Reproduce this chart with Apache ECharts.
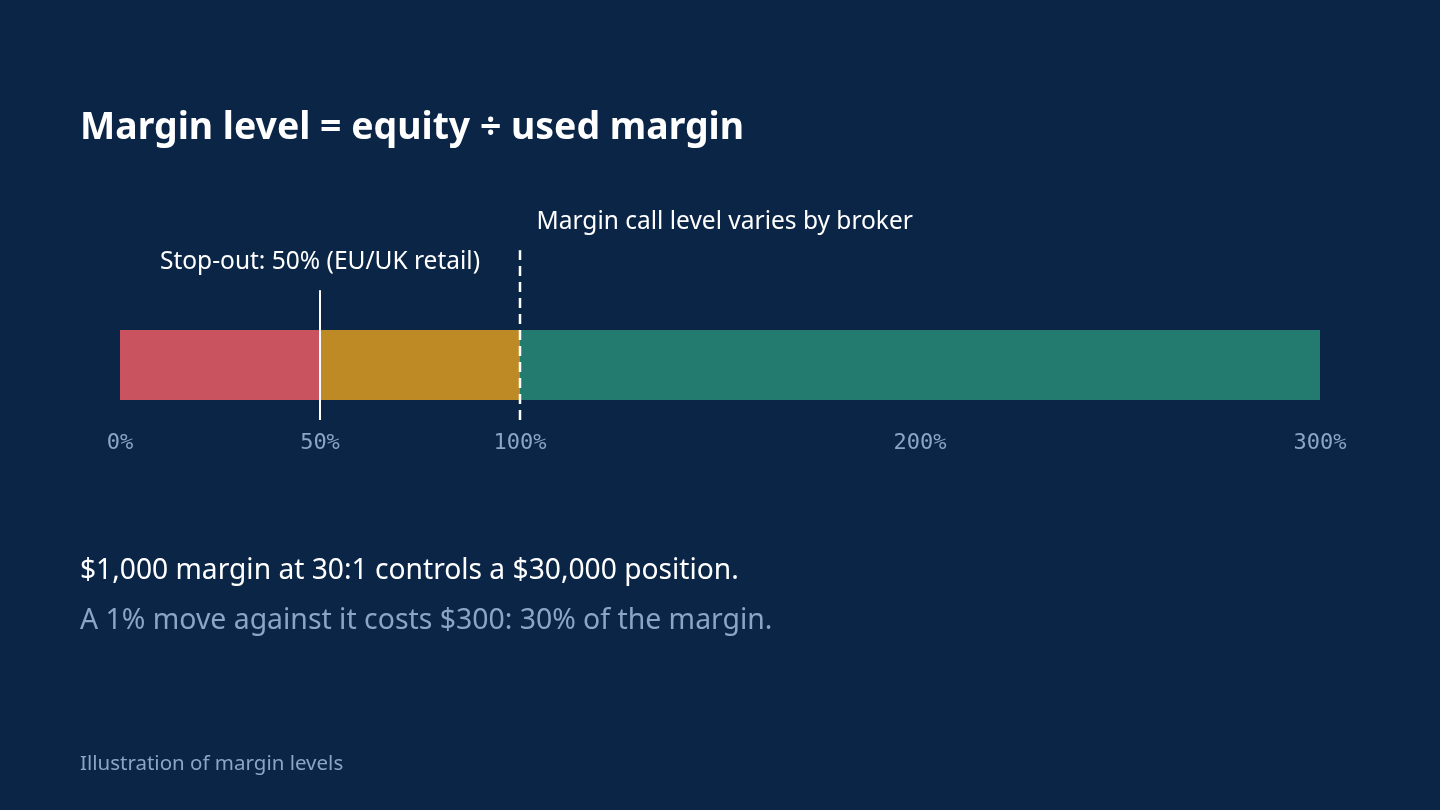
<!DOCTYPE html>
<html>
<head>
<meta charset="utf-8">
<title>Margin levels</title>
<script src="https://cdn.jsdelivr.net/npm/echarts@6/dist/echarts.min.js"></script>
<style>
  html, body { margin: 0; padding: 0; background: #0b2547; }
  #chart { width: 1440px; height: 810px; }
</style>
</head>
<body>
<div id="chart"></div>
<script>
// zones of the margin level bar (percent)
var zoneNames = ['Stop-out', 'Margin call', 'Safe'];
var zoneWidths = [50, 50, 200];
var zoneColors = ['#c9545f', '#bd8a26', '#237a6e'];
var tickValues = [0, 50, 100, 200, 300];

// marker lines: level, height above the marker baseline, label
var stopOutLevel = 50;
var stopOutHeight = 130;
var stopOutText = 'Stop-out: 50% (EU/UK retail)';
var marginCallLevel = 100;
var marginCallHeight = 170;
var marginCallText = 'Margin call level varies by broker';

var font = '"Noto Sans", "Open Sans", sans-serif';
var mono = '"DejaVu Sans Mono", monospace';

var chartDom = document.getElementById('chart');
var myChart = echarts.init(chartDom);
var option;

var barSeries = zoneNames.map(function (name, i) {
    return {
        name: name,
        type: 'bar',
        stack: 'level',
        xAxisIndex: 0,
        yAxisIndex: 0,
        barWidth: 70,
        itemStyle: { color: zoneColors[i] },
        data: [zoneWidths[i]],
        silent: true
    };
});

var annoLabel = { color: '#ffffff', opacity: 1, fontFamily: font, fontSize: 24.5 };

option = {
    backgroundColor: '#0b2547',
    animation: false,
    title: [
        {
            text: 'Margin level = equity ÷ used margin',
            left: 80, top: 110, padding: 0,
            textStyle: { color: '#ffffff', fontFamily: font, fontSize: 37.4, fontWeight: 'bold' }
        },
        {
            text: '$1,000 margin at 30:1 controls a $30,000 position.',
            left: 80, top: 557, padding: 0,
            textStyle: { color: '#ffffff', fontFamily: font, fontSize: 28.2, fontWeight: 'normal' }
        },
        {
            text: 'A 1% move against it costs $300: 30% of the margin.',
            left: 80, top: 607, padding: 0,
            textStyle: { color: '#8aa6c6', fontFamily: font, fontSize: 28.4, fontWeight: 'normal' }
        },
        {
            text: 'Illustration of margin levels',
            left: 80, top: 754, padding: 0,
            textStyle: { color: '#8aa6c6', fontFamily: font, fontSize: 20.5, fontWeight: 'normal' }
        }
    ],
    grid: [
        { left: 120, right: 120, top: 330, height: 70 },
        { left: 120, right: 120, top: 200, bottom: 390 }
    ],
    xAxis: [
        {
            type: 'value', gridIndex: 0, min: 0, max: 300,
            splitLine: { show: false },
            axisLine: { show: false },
            axisTick: { show: false },
            axisLabel: {
                customValues: tickValues,
                formatter: '{value}%',
                color: '#8aa6c6',
                fontFamily: mono,
                fontSize: 22,
                margin: 32
            }
        },
        {
            type: 'value', gridIndex: 1, min: 0, max: 300, show: false
        }
    ],
    yAxis: [
        { type: 'category', gridIndex: 0, data: ['Margin level'], show: false },
        { type: 'value', gridIndex: 1, min: 0, max: 220, show: false }
    ],
    series: barSeries.concat([
        {
            name: 'Stop-out line',
            type: 'line',
            xAxisIndex: 1, yAxisIndex: 1,
            symbol: 'none',
            silent: true,
            z: 5,
            lineStyle: { color: '#ffffff', width: 2 },
            data: [[stopOutLevel, 0], [stopOutLevel, stopOutHeight]]
        },
        {
            name: 'Margin call line',
            type: 'line',
            xAxisIndex: 1, yAxisIndex: 1,
            symbol: 'none',
            silent: true,
            z: 5,
            lineStyle: { color: '#ffffff', width: 2.5, type: [10, 6] },
            data: [[marginCallLevel, 0], [marginCallLevel, marginCallHeight]]
        },
        {
            name: 'Annotations',
            type: 'scatter',
            xAxisIndex: 1, yAxisIndex: 1,
            symbolSize: 1,
            silent: true,
            z: 6,
            itemStyle: { color: '#0b2547', opacity: 1 },
            data: [
                {
                    value: [stopOutLevel, stopOutHeight],
                    label: Object.assign({ show: true, formatter: stopOutText, position: 'top', distance: 15 }, annoLabel)
                },
                {
                    value: [marginCallLevel, marginCallHeight],
                    label: Object.assign({ show: true, formatter: marginCallText, position: 'right', distance: 0, offset: [16, -28] }, annoLabel)
                }
            ]
        }
    ])
};

option && myChart.setOption(option);
</script>
</body>
</html>
